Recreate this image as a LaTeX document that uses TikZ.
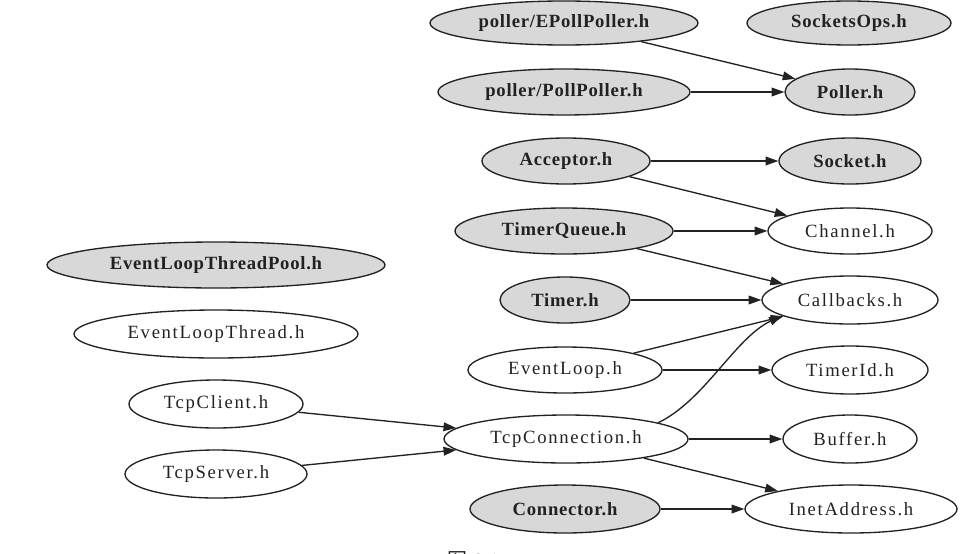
\documentclass[tikz,border=0pt]{standalone}
\usepackage{fontspec}
\setmainfont{Liberation Serif}
% spaced-out regular face for public headers, slightly spaced bold face for internal ones
\newfontfamily\plainface[LetterSpace=9]{Liberation Serif}
\newfontfamily\heavyface[LetterSpace=4]{Liberation Serif}
\newfontfamily\cjkface{Noto Sans CJK SC}
\usetikzlibrary{shapes.geometric,arrows.meta}
\definecolor{hdrfill}{RGB}{216,216,216}
\definecolor{ink}{RGB}{34,34,34}
\begin{document}
\begin{tikzpicture}[x=0.75pt,y=-0.75pt,
  hnode/.style={ellipse,draw=ink,line width=1pt,inner sep=0pt,text=ink},
  sized/.style 2 args={minimum width=#1*1.5pt,minimum height=#2*1.5pt},
  internal/.style={hnode,fill=hdrfill,font=\fontsize{14}{16}\heavyface\bfseries},
  public/.style={hnode,fill=white,font=\fontsize{14}{16}\plainface},
  dep/.style={draw=ink,line width=1pt,-{Triangle[length=9.5pt,width=6.5pt]}}]

\fill[white] (0,0) rectangle (969,553);
\useasboundingbox (0,0) rectangle (969,553);

% left column: headers with no drawn dependencies, plus the two front ends
\node[internal,sized={169}{23}] (pool)   at (216,265) {EventLoopThreadPool.h};
\node[public,sized={142}{24}]   (thread) at (216,334) {EventLoopThread.h};
\node[public,sized={87}{24}]    (client) at (216,404) {TcpClient.h};
\node[public,sized={91}{24}]    (server) at (216,474) {TcpServer.h};

% middle column
\node[internal,sized={134}{22}] (epoll)    at (564,23)  {poller/EPollPoller.h};
\node[internal,sized={126}{23}] (poll)     at (564,92)  {poller/PollPoller.h};
\node[internal,sized={84}{23}]  (acceptor) at (566,161) {Acceptor.h};
\node[internal,sized={109}{23}] (tqueue)   at (564,231) {TimerQueue.h};
\node[internal,sized={65}{23}]  (timer)    at (565,300) {Timer.h};
\node[public,sized={97}{23}]    (loop)     at (565,370) {EventLoop.h};
\node[public,sized={122}{24}]   (conn)     at (566,439) {TcpConnection.h};
\node[internal,sized={95}{24}]  (connector) at (565,509) {Connector.h};

% right column
\node[internal,sized={102}{22}] (sockops)  at (849,23)  {SocketsOps.h};
\node[internal,sized={65}{23}]  (poller)   at (850,92)  {Poller.h};
\node[internal,sized={71}{23}]  (socket)   at (850,161) {Socket.h};
\node[public,sized={82}{23}]    (channel)  at (850,231) {Channel.h};
\node[public,sized={88}{24}]    (callbacks) at (850,300) {Callbacks.h};
\node[public,sized={78}{24}]    (timerid)  at (850,370) {TimerId.h};
\node[public,sized={67}{24}]    (buffer)   at (850,439) {Buffer.h};
\node[public,sized={106}{24}]   (inet)     at (851,509) {InetAddress.h};

% include dependencies
\draw[dep] (epoll) -- (poller);
\draw[dep] (poll) -- (poller);
\draw[dep] (acceptor) -- (socket);
\draw[dep] (acceptor) -- (channel);
\draw[dep] (tqueue) -- (channel);
\draw[dep] (tqueue) -- (callbacks);
\draw[dep] (timer) -- (callbacks);
\draw[dep] (loop) -- (callbacks);
\draw[dep] (loop) -- (timerid);
\draw[dep] (conn.10) .. controls (705,400) and (735,338) .. (callbacks.193);
\draw[dep] (conn) -- (buffer);
\draw[dep] (conn) -- (inet);
\draw[dep] (connector) -- (inet);
\draw[dep] (client) -- (conn);
\draw[dep] (server) -- (conn);

% figure caption, running off the lower edge
\node[anchor=base west,inner sep=0pt,text=ink,font=\fontsize{15}{18}\selectfont] (caption) at (447,567) {{\cjkface 图}\ 6-1};
\end{tikzpicture}
\end{document}
